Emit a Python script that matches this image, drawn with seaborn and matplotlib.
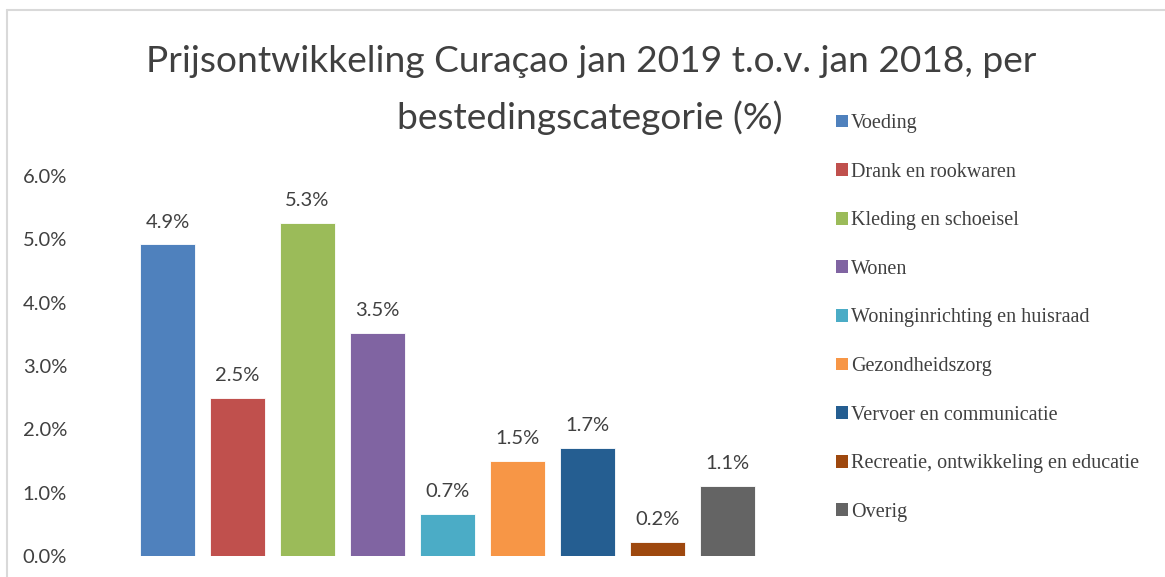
import matplotlib
matplotlib.use("Agg")
import matplotlib.pyplot as plt
import seaborn as sns
from matplotlib.patches import Patch
from matplotlib.lines import Line2D

# data (percent change jan 2019 vs jan 2018)
categories = ["Voeding", "Drank en rookwaren", "Kleding en schoeisel", "Wonen",
              "Woninginrichting en huisraad", "Gezondheidszorg",
              "Vervoer en communicatie", "Recreatie, ontwikkeling en educatie",
              "Overig"]
values = [4.92, 2.50, 5.26, 3.52, 0.67, 1.50, 1.71, 0.22, 1.10]
yticks = [0, 1, 2, 3, 4, 5, 6]

colors = ["#4F81BD", "#C0504D", "#9BBB59", "#8064A2", "#4BACC6",
          "#F79646", "#255E91", "#9E480E", "#646464"]

sns.set_style("white")
plt.rcParams["font.family"] = ["Lato", "DejaVu Sans"]

fig = plt.figure(figsize=(11.65, 5.77), dpi=100)
ax = fig.add_axes([132.5 / 1165, 21 / 577, 630 / 1165, 380 / 577])

sns.barplot(x=categories, y=values, hue=categories, palette=colors,
            legend=False, width=0.79, ax=ax, saturation=1,
            edgecolor="white", linewidth=0.6)

for cont in ax.containers:
    ax.bar_label(cont, labels=[f"{b.get_height():.1f}%" for b in cont],
                 padding=10, fontsize=14.5, color="#404040")

ax.set_ylim(0, 6)
ax.set_yticks(yticks)
ax.set_yticklabels([f"{t:.1f}%" for t in yticks], fontsize=14.5,
                   color="#404040", ha="left")
ax.tick_params(axis="y", length=0, pad=79)
ax.set_xticks([])
ax.set_xlabel("")
ax.set_ylabel("")
sns.despine(ax=ax, left=True, bottom=True)

# title
fig.text(591 / 1165, 1 - 62 / 577, "Prijsontwikkeling Curaçao jan 2019 t.o.v. jan 2018, per",
         ha="center", va="center", fontsize=26.7, color="#404040")
fig.text(590 / 1165, 1 - 118 / 577, "bestedingscategorie (%)",
         ha="center", va="center", fontsize=26.7, color="#404040")

# legend
handles = [Patch(facecolor=c, edgecolor="none") for c in colors]
leg = fig.legend(handles, categories, loc="upper left",
                 bbox_to_anchor=(836 / 1165, 1 - 114 / 577),
                 frameon=False, borderpad=0, borderaxespad=0,
                 handlelength=0.6, handleheight=0.6, handletextpad=0.15,
                 labelspacing=1.47,
                 prop={"family": "Liberation Serif", "size": 14.5})
for t in leg.get_texts():
    t.set_color("#404040")

# chart area border (top and left edges visible)
fig.add_artist(Line2D([7 / 1165, 1], [1 - 10 / 577, 1 - 10 / 577],
                      transform=fig.transFigure, color="#d9d9d9", lw=1.5))
fig.add_artist(Line2D([7 / 1165, 7 / 1165], [1 - 10 / 577, 0],
                      transform=fig.transFigure, color="#d9d9d9", lw=1.5))

fig.savefig("out.png", dpi=100)
